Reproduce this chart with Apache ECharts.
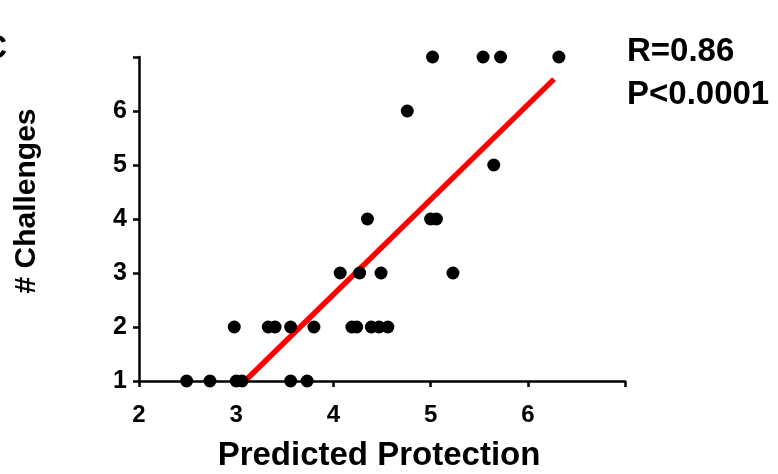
<!DOCTYPE html>
<html>
<head>
<meta charset="utf-8">
<script src="https://cdn.jsdelivr.net/npm/echarts@6/dist/echarts.min.js"></script>
<style>
html,body{margin:0;padding:0;background:#fff;}
#chart{width:778px;height:474px;}
</style>
</head>
<body>
<div id="chart"></div>
<script>
// Predicted protection (x) and number of challenges (y) for each animal
var protection = [2.49, 2.73, 3.00, 3.06, 3.56, 3.73,
                  2.98, 3.33, 3.40, 3.56, 3.80, 4.19, 4.24, 4.39, 4.47, 4.56,
                  4.07, 4.27, 4.49, 5.23,
                  4.35, 5.00, 5.06,
                  5.65,
                  4.76,
                  5.02, 5.54, 5.72, 6.32];
var challenges = [1, 1, 1, 1, 1, 1,
                  2, 2, 2, 2, 2, 2, 2, 2, 2, 2,
                  3, 3, 3, 3,
                  4, 4, 4,
                  5,
                  6,
                  7, 7, 7, 7];
// Regression line end points
var fitX = [3.09, 6.27];
var fitY = [1, 6.59];
var xTicks = [2, 3, 4, 5, 6];
var yTicks = [1, 2, 3, 4, 5, 6];
var statR = 'R=0.86';
var statP = 'P<0.0001';
var xTitle = 'Predicted Protection';
var yTitle = '# Challenges';
var panel = 'C';

var pts = protection.map(function (v, i) { return [v, challenges[i]]; });
var fit = fitX.map(function (v, i) { return [v, fitY[i]]; });
var FONT = '"Liberation Sans", Arial, Helvetica, sans-serif';

var chart = echarts.init(document.getElementById('chart'), null, {renderer: 'canvas'});
chart.setOption({
  animation: false,
  backgroundColor: '#ffffff',
  grid: {left: 139, right: 153, top: 57, bottom: 93, containLabel: false},
  xAxis: {
    type: 'value', min: 2, max: 7, interval: 1,
    splitLine: {show: false},
    axisLine: {show: true, onZero: false, lineStyle: {color: '#000', width: 2.5}},
    axisTick: {show: true, length: 6, lineStyle: {color: '#000', width: 2.5}},
    axisLabel: {
      margin: 22, color: '#000', fontSize: 24, fontWeight: 'bold', fontFamily: FONT,
      formatter: function (v) { return xTicks.indexOf(v) >= 0 ? String(v) : ''; }
    }
  },
  yAxis: {
    type: 'value', min: 1, max: 7, interval: 1,
    splitLine: {show: false},
    axisLine: {show: true, onZero: false, lineStyle: {color: '#000', width: 2.5}},
    axisTick: {show: true, length: 6, lineStyle: {color: '#000', width: 2.5}},
    axisLabel: {
      margin: 12, color: '#000', fontSize: 25, fontWeight: 'bold', fontFamily: FONT,
      formatter: function (v) { return yTicks.indexOf(v) >= 0 ? String(v) : ''; }
    }
  },
  series: [
    {
      type: 'line', data: fit, showSymbol: false, symbol: 'none',
      lineStyle: {color: '#ff0000', width: 5.5}, z: 2, silent: true
    },
    {
      type: 'scatter', data: pts, symbol: 'circle', symbolSize: 13,
      itemStyle: {color: '#000', opacity: 1}, z: 3
    }
  ],
  graphic: [
    {type: 'text', x: 379, y: 456, z: 10,
     style: {text: xTitle, fill: '#000', font: 'bold 33px ' + FONT, textAlign: 'center', textVerticalAlign: 'middle'}},
    {type: 'text', x: 27, y: 201, rotation: Math.PI / 2, z: 10,
     style: {text: yTitle, fill: '#000', font: 'bold 30px ' + FONT, textAlign: 'center', textVerticalAlign: 'middle'}},
    {type: 'text', x: 627, y: 35, z: 10,
     style: {text: statR, fill: '#000', font: 'bold 33px ' + FONT, textAlign: 'left', textVerticalAlign: 'alphabetic'}},
    {type: 'text', x: 627, y: 78, z: 10,
     style: {text: statP, fill: '#000', font: 'bold 33px ' + FONT, textAlign: 'left', textVerticalAlign: 'alphabetic'}},
    {type: 'text', x: 7, y: 32, z: 10,
     style: {text: panel, fill: '#000', font: 'bold 33px ' + FONT, textAlign: 'right', textVerticalAlign: 'alphabetic'}}
  ]
});
</script>
</body>
</html>
